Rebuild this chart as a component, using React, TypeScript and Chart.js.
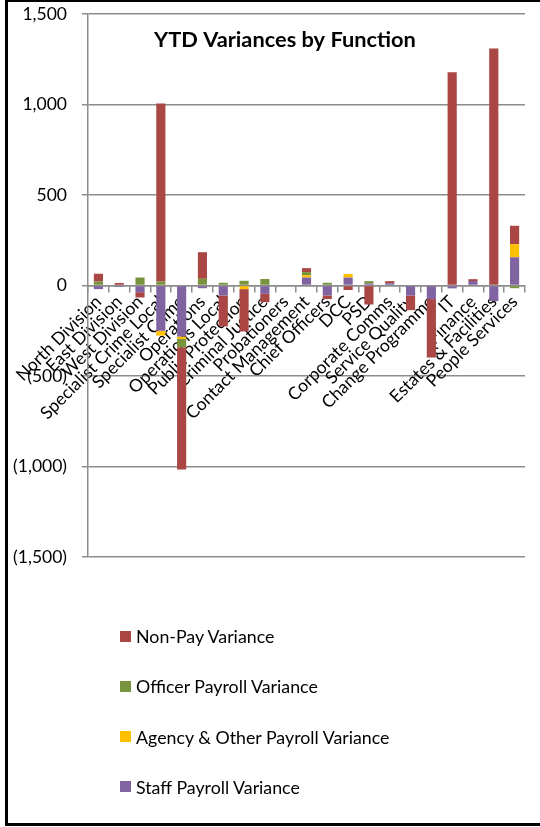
import React, { useEffect, useRef } from 'react';
import { Chart, registerables } from 'chart.js';

Chart.register(...registerables);

const TITLE = 'YTD Variances by Function';

const categories = [
  'North Division', 'East Division', 'West Division', 'Specialist Crime Local', 'Specialist Crime',
  'Operations', 'Operations Local', 'Public Protection', 'Criminal Justice', 'Probationers',
  'Contact Management', 'Chief Officers', 'DCC', 'PSD', 'Corporate Comms', 'Service Quality',
  'Change Programme', 'IT', 'Finance', 'Estates & Facilities', 'People Services',
];

const staffPayroll = [-20, -8, -37, -250, -282, -15, -55, 0, -46, 0, 44, -55, 44, 11, 13, -55, -75, -16, 25, -86, 156];
const agencyPayroll = [0, 0, 0, -27, -13, 0, 0, -20, 0, 0, 13, 0, 20, 0, 0, 0, 0, 0, 0, 0, 72];
const officerPayroll = [22, 0, 44, 22, -46, 37, 15, 26, 36, 0, 17, 15, 0, 13, 0, 0, 0, 0, 0, 0, -15];
const nonPay = [43, 14, -29, 983, -675, 147, -171, -234, -46, 0, 22, -20, -25, -105, 11, -81, -323, 1178, 10, 1310, 102];

const yMin = -1500;
const yMax = 1500;
const yStep = 500;

const seriesNames = ['Staff Payroll Variance', 'Agency & Other Payroll Variance', 'Officer Payroll Variance', 'Non-Pay Variance'];
const seriesColors = ['#8064A2', '#FFC000', '#77933C', '#AA4643'];
const seriesData = [staffPayroll, agencyPayroll, officerPayroll, nonPay];

const FONT = 'Lato';

function fmt(v: number): string {
  const s = Math.abs(v).toLocaleString('en-US');
  return v < 0 ? `(${s})` : s;
}

const innerTitle = {
  id: 'innerTitle',
  afterDraw(chart: any) {
    const ctx = chart.ctx;
    ctx.save();
    ctx.font = `bold 21.8px ${FONT}`;
    ctx.fillStyle = '#000';
    ctx.textAlign = 'center';
    ctx.textBaseline = 'alphabetic';
    ctx.fillText(TITLE, 285, 47);
    ctx.restore();
  },
};

export default function App() {
  const ref = useRef<HTMLCanvasElement | null>(null);

  useEffect(() => {
    if (!ref.current) return;
    const chart = new Chart(ref.current, {
      type: 'bar',
      data: {
        labels: categories,
        datasets: seriesNames.map((name, i) => ({
          label: name,
          data: seriesData[i],
          backgroundColor: seriesColors[i],
          borderWidth: 0,
          barPercentage: 0.44,
          categoryPercentage: 1,
        })),
      },
      options: {
        responsive: false,
        animation: false,
        devicePixelRatio: 1,
        layout: { padding: { left: 8, right: 15, top: 14, bottom: 270 } },
        plugins: {
          legend: { display: false },
          title: { display: false },
          tooltip: { enabled: false },
        },
        scales: {
          x: {
            stacked: true,
            position: { y: 0 } as any,
            grid: {
              display: true,
              drawOnChartArea: false,
              drawTicks: true,
              tickLength: 6,
              color: '#8c8c8c',
              lineWidth: 1.5,
              offset: true,
            },
            border: { display: true, color: '#8c8c8c', width: 1.5 },
            ticks: {
              autoSkip: false,
              maxRotation: 45,
              minRotation: 45,
              padding: 0,
              color: '#000',
              font: { family: FONT, size: 17.5 },
            },
          },
          y: {
            stacked: true,
            min: yMin,
            max: yMax,
            grid: {
              color: '#8c8c8c',
              lineWidth: 1.5,
              drawTicks: true,
              tickLength: 6,
            },
            border: { display: true, color: '#8c8c8c', width: 1.5 },
            ticks: {
              stepSize: yStep,
              padding: 15,
              color: '#000',
              font: { family: FONT, size: 17.5 },
              callback: (v: any) => fmt(Number(v)),
            },
            afterFit: (scale: any) => {
              scale.width = 80;
              scale.paddingTop = 0;
              scale.paddingBottom = 0;
            },
          },
        },
      },
      plugins: [innerTitle],
    });
    return () => chart.destroy();
  }, []);

  const legendOrder = [3, 2, 1, 0];

  return (
    <div style={{ position: 'fixed', left: 0, top: 0, width: 540, height: 827, overflow: 'hidden', background: '#fff' }}>
      <canvas ref={ref} width={540} height={827} style={{ position: 'absolute', left: 0, top: 0, display: 'block' }} />
      {legendOrder.map((si, row) => (
        <div
          key={si}
          style={{
            position: 'absolute',
            left: 120,
            top: 636 + row * 50.3 - 12,
            height: 24,
            display: 'flex',
            alignItems: 'center',
            fontFamily: FONT,
            fontSize: 17.8,
            color: '#000',
            whiteSpace: 'nowrap',
          }}
        >
          <span style={{ display: 'inline-block', width: 11, height: 11, background: seriesColors[si], marginRight: 5 }} />
          <span>{seriesNames[si]}</span>
        </div>
      ))}
      <div
        style={{
          position: 'absolute',
          left: 5,
          top: -1,
          width: 600,
          height: 827,
          boxSizing: 'border-box',
          border: '3px solid #000',
          pointerEvents: 'none',
        }}
      />
    </div>
  );
}
